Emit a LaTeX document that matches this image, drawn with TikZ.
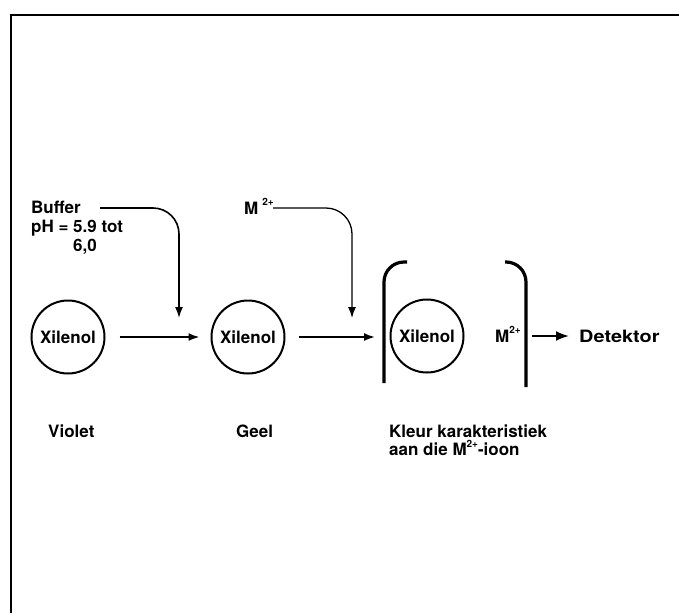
\documentclass[tikz,border=0pt]{standalone}
\usepackage{fontspec}
\setmainfont{TeX Gyre Heros}
\usetikzlibrary{arrows.meta}
\newcommand{\Msup}[2][0pt]{M\hspace{#1}\raisebox{#2}{\fontsize{10}{10}\selectfont\bfseries 2+}}
\begin{document}
\begin{tikzpicture}[x=1pt,y=-1pt,
  txt/.style={inner sep=0pt,anchor=base west,font=\fontsize{17}{20}\selectfont\bfseries},
  ring/.style={circle,draw,line width=2pt,minimum size=73pt,inner sep=0pt,font=\fontsize{17}{20}\selectfont\bfseries},
  conn/.style={line width=1.8pt,-{Latex[length=11pt,width=8pt]}},
  brack/.style={line width=3.2pt,rounded corners=20pt}]
\useasboundingbox (0,0) rectangle (679,613);
% frame
\draw[line width=2pt] (10.5,613) -- (10.5,14.5) -- (679,14.5);
% circles
\node[ring] (c1) at (68,337) {Xilenol};
\node[ring] (c2) at (248,337) {Xilenol};
\node[ring] (c3) at (427,336) {Xilenol};
% brackets
\draw[brack] (407,262) -- (384,262) -- (384,383);
\draw[brack] (505,262) -- (526,262) -- (526,387);
\coordinate (bl) at (384,337);
% complex M2+
\node[txt] (m3) at (495,342) {\Msup{0.52em}};
% detector
\node[txt] (det) at (579,342) {\scalebox{1.17}[1]{Detektor}};
\coordinate (br) at (526,336);
% horizontal arrows
\draw[conn,shorten <=14pt,shorten >=11pt] (c1.east) -- (c2.west);
\draw[conn,shorten <=13pt,shorten >=9pt] (c2.east) -- (bl);
\draw[line width=2pt,-{Latex[length=13pt,width=10pt]},shorten <=6pt,shorten >=10pt] (br) -- (det.west |- br);
% buffer
\node[txt] (buf) at (31,213) {Buffer};
\node[txt] (ph) at (31,232) {pH = 5.9 tot};
\node[txt] (ph2) at (73,251) {6,0};
\coordinate (bstart) at (100,208);
\coordinate (bend) at (179,318);
\draw[conn,line width=1.6pt,rounded corners=26pt] (bstart) -- (bend |- bstart) -- (bend);
% M2+ top
\node[txt] (mtop) at (244,214) {\Msup[4pt]{0.52em}};
\coordinate (mstart) at (273,208);
\coordinate (mend) at (352,318);
\draw[conn,line width=1.3pt,rounded corners=26pt] (mstart) -- (mend |- mstart) -- (mend);
% bottom labels
\node[txt] (vio) at (48,437) {Violet};
\node[txt] (geel) at (236,437) {Geel};
\node[txt] (kl1) at (389,437) {Kleur karakteristiek};
\node[txt] (kl2) at (389,455) {aan die \Msup{0.42em}-ioon};
\end{tikzpicture}
\end{document}
